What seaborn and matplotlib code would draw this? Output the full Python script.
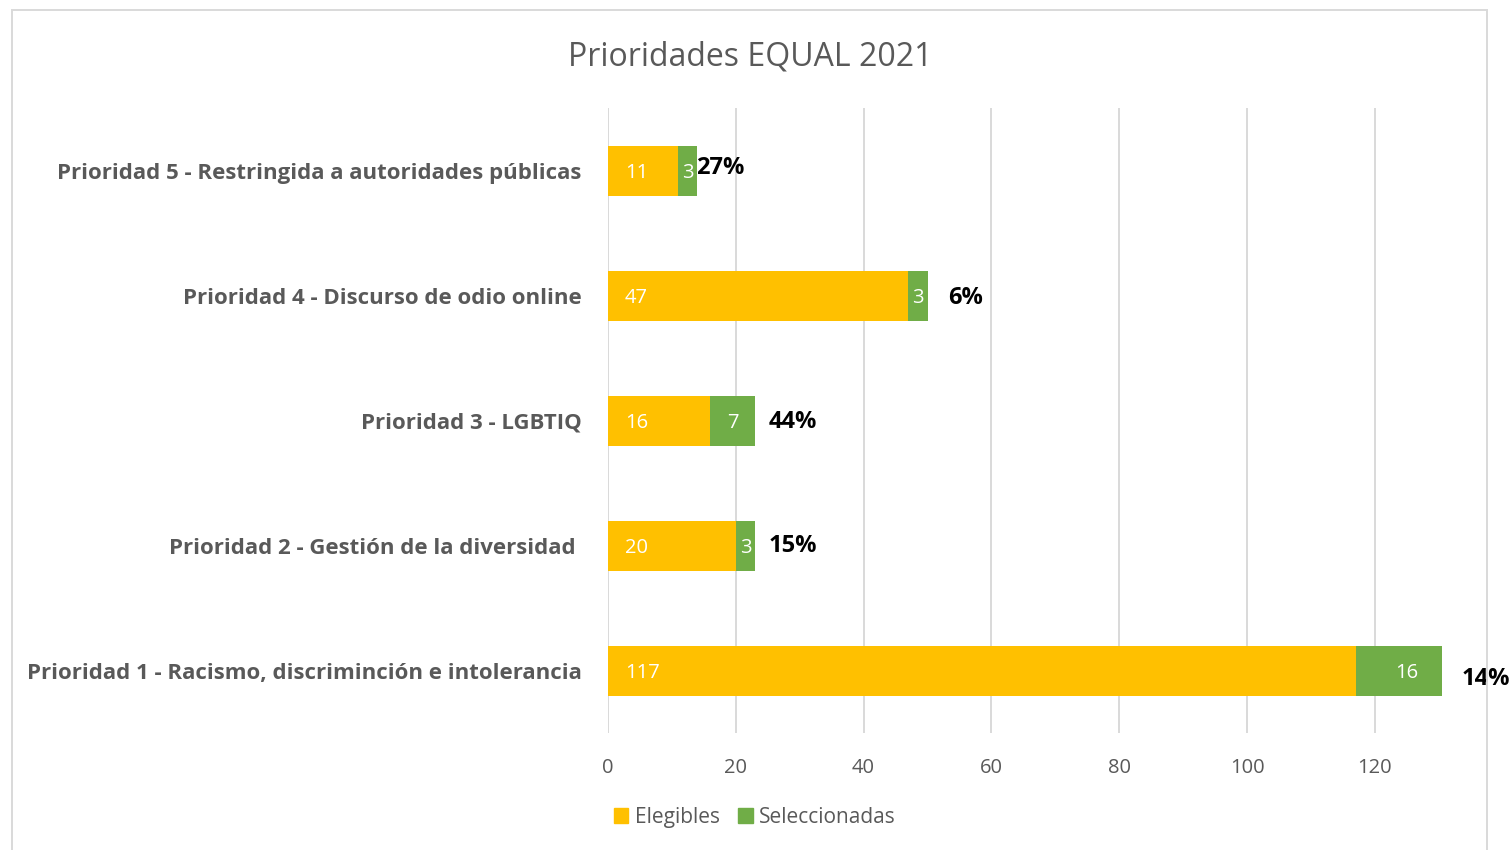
import matplotlib.pyplot as plt
import pandas as pd
import seaborn as sns
from matplotlib.patches import Patch, Rectangle

# categories, top to bottom as in the chart
prioridades = [
    "Prioridad 5 - Restringida a autoridades públicas",
    "Prioridad 4 - Discurso de odio online",
    "Prioridad 3 - LGBTIQ",
    "Prioridad 2 - Gestión de la diversidad ",
    "Prioridad 1 - Racismo, discriminción e intolerancia",
]
elegibles = [11, 47, 16, 20, 117]
seleccionadas = [3, 3, 7, 3, 16]
x_ticks = [0, 20, 40, 60, 80, 100, 120]
x_max = 130.5

AMARILLO = "#FFC000"
VERDE = "#70AD47"
GRIS = "#595959"
GRID = "#D9D9D9"

# manual nudges (pixels) of the percentage labels, as in the original
pct_dx = [-1, 21, 14, 14, 4]
pct_dy = [3, -2, -1, 0, -8]

sns.set_theme(style="white")
plt.rcParams["font.family"] = ["Open Sans", "DejaVu Sans"]

df = pd.DataFrame(
    {"prioridad": prioridades, "elegibles": elegibles, "seleccionadas": seleccionadas}
)
df["total"] = df["elegibles"] + df["seleccionadas"]
df["pct"] = (df["seleccionadas"] / df["elegibles"] * 100).round().astype(int)

fig = plt.figure(figsize=(15.12, 8.5), dpi=100)
ax = fig.add_axes([0.4021, 0.1376, 0.5516, 0.7353])

# stacked bars: full total in green, then elegibles in yellow on top
sns.barplot(data=df, y="prioridad", x="total", color=VERDE, saturation=1,
            width=0.4, orient="h", errorbar=None, linewidth=0, ax=ax)
sns.barplot(data=df, y="prioridad", x="elegibles", color=AMARILLO, saturation=1,
            width=0.4, orient="h", errorbar=None, linewidth=0, ax=ax)

ax.set_xlim(0, x_max)
ax.set_ylim(4.5, -0.5)
ax.set_xticks(x_ticks)
ax.set_xlabel("")
ax.set_ylabel("")
ax.xaxis.grid(True, color=GRID, lw=1.4)
ax.set_axisbelow(True)
for s in ax.spines.values():
    s.set_visible(False)
ax.tick_params(axis="x", length=0, pad=18, labelsize=14.5, labelcolor=GRIS)
ax.tick_params(axis="y", length=0, pad=19, labelsize=16, labelcolor=GRIS)
for lab in ax.get_yticklabels():
    lab.set_fontweight("bold")

for i, row in df.iterrows():
    ax.annotate(str(row["elegibles"]), xy=(0, i), xytext=(17, -2),
                textcoords="offset pixels", ha="left", va="center",
                color="white", fontsize=14.5)
    ax.annotate(str(row["seleccionadas"]),
                xy=(row["elegibles"] + row["seleccionadas"] / 2, i),
                xytext=(0, -2), textcoords="offset pixels",
                ha="center", va="center", color="white", fontsize=14.5)
    ax.annotate(f"{row['pct']}%", xy=(row["total"], i),
                xytext=(pct_dx[i], pct_dy[i]), textcoords="offset pixels",
                ha="left", va="center", color="black", fontsize=17,
                fontweight="bold", annotation_clip=False)

fig.text(0.496, 0.933, "Prioridades EQUAL 2021", ha="center", va="center",
         fontsize=23, color=GRIS)

handles = [Patch(color=AMARILLO, label="Elegibles"),
           Patch(color=VERDE, label="Seleccionadas")]
leg = fig.legend(handles=handles, loc="center", bbox_to_anchor=(0.4993, 0.0388),
                 ncol=2, frameon=False, fontsize=15, handlelength=0.7,
                 handleheight=0.7, handletextpad=0.3, columnspacing=0.9)
for t in leg.get_texts():
    t.set_color(GRIS)

fig.patches.append(Rectangle((0.0079, -0.02), 0.9756, 1.008, transform=fig.transFigure,
                             fill=False, ec=GRID, lw=1.4))

fig.savefig("out.png", dpi=100)
